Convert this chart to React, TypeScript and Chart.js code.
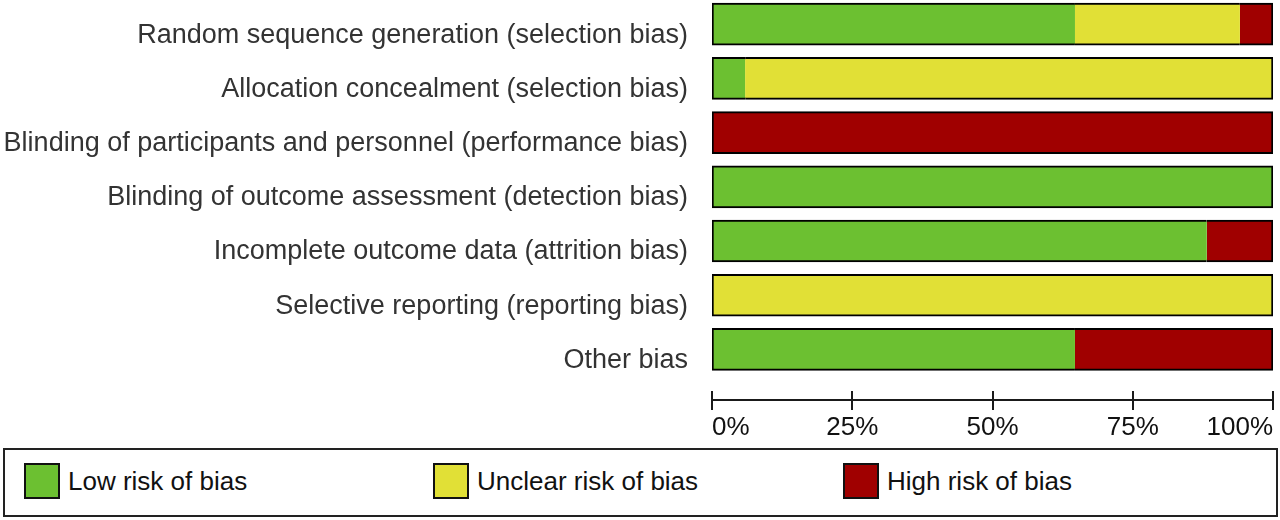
import React, { useEffect, useRef } from "react";
import { Chart, registerables } from "chart.js";

Chart.register(...registerables);

const categories = [
  "Random sequence generation (selection bias)",
  "Allocation concealment (selection bias)",
  "Blinding of participants and personnel (performance bias)",
  "Blinding of outcome assessment (detection bias)",
  "Incomplete outcome data (attrition bias)",
  "Selective reporting (reporting bias)",
  "Other bias",
];
const lowRisk = [64.7, 5.9, 0, 100, 88.2, 0, 64.7];
const unclearRisk = [29.4, 94.1, 0, 0, 0, 100, 0];
const highRisk = [5.9, 0, 100, 0, 11.8, 0, 35.3];
const seriesNames = ["Low risk of bias", "Unclear risk of bias", "High risk of bias"];
const seriesColors = ["#6cc031", "#e1e036", "#a00000"];
const xTicks = [0, 25, 50, 75, 100];

const FONT = "'Liberation Sans', Arial, sans-serif";
const allSeries = [lowRisk, unclearRisk, highRisk];

const axisPlugin = {
  id: "rbAxis",
  afterDraw(chart: any) {
    const x = chart.scales.x;
    const ctx = chart.ctx;
    const yb = chart.chartArea.bottom;
    ctx.save();
    ctx.strokeStyle = "#1a1a1a";
    ctx.lineWidth = 2;
    ctx.beginPath();
    ctx.moveTo(x.getPixelForValue(0), yb);
    ctx.lineTo(x.getPixelForValue(100), yb);
    for (const t of x.ticks) {
      const px = Math.round(x.getPixelForValue(t.value));
      ctx.moveTo(px, yb - 9);
      ctx.lineTo(px, yb + 10);
    }
    ctx.stroke();
    ctx.restore();
  },
};

export default function App() {
  const ref = useRef<HTMLCanvasElement | null>(null);

  useEffect(() => {
    if (!ref.current) return;
    const datasets = allSeries.map((s, ds) => ({
      label: seriesNames[ds],
      data: s.map((v, i) => ({ x: v > 0 ? v : null, y: i })),
      backgroundColor: seriesColors[ds],
      borderColor: "#000000",
      borderSkipped: false as any,
      barThickness: 42,
      borderWidth: (ctx: any) => {
        const i = ctx.dataIndex;
        const v = allSeries[ds][i];
        if (!v) return 0;
        let first = -1;
        let last = -1;
        allSeries.forEach((arr, k) => {
          if (arr[i] > 0) {
            if (first < 0) first = k;
            last = k;
          }
        });
        return { top: 2, bottom: 2, left: ds === first ? 2 : 0, right: ds === last ? 2 : 0 };
      },
    }));

    const chart = new Chart(ref.current, {
      type: "bar",
      data: { datasets },
      plugins: [axisPlugin],
      options: {
        indexAxis: "y",
        animation: false,
        responsive: true,
        maintainAspectRatio: false,
        events: [],
        layout: { padding: { left: 0, right: 7, top: 0, bottom: 0 } },
        plugins: { legend: { display: false }, tooltip: { enabled: false } },
        scales: {
          x: {
            type: "linear",
            position: "bottom",
            stacked: true,
            min: 0,
            max: 100,
            offset: false,
            afterBuildTicks: (scale: any) => {
              scale.ticks = xTicks.map((v) => ({ value: v }));
            },
            ticks: {
              callback: (v: any) => v + "%",
              align: "inner",
              padding: 12,
              color: "#111111",
              font: { family: FONT, size: 26 },
              maxRotation: 0,
            },
            grid: { display: false, drawTicks: false, offset: false },
            border: { display: false },
            afterFit: (scale: any) => {
              scale.height = 45;
              scale.paddingLeft = 0;
              scale.paddingRight = 0;
            },
          },
          y: {
            type: "linear",
            stacked: true,
            reverse: true,
            offset: false,
            min: -0.446,
            max: 6.933,
            afterBuildTicks: (scale: any) => {
              scale.ticks = categories.map((_, i) => ({ value: i }));
            },
            ticks: {
              callback: (v: any) => categories[v] ?? "",
              padding: 24,
              labelOffset: 11,
              color: "#333333",
              font: { family: FONT, size: 27 },
            },
            grid: { display: false, drawTicks: false, offset: false },
            border: { display: false },
            afterFit: (scale: any) => {
              scale.width = 712;
              scale.paddingTop = 0;
              scale.paddingBottom = 0;
            },
          },
        },
      } as any,
    });
    return () => chart.destroy();
  }, []);

  const itemLefts = [24, 433, 843];

  return (
    <div style={{ position: "absolute", left: 0, top: 0, width: 1280, height: 520, background: "#ffffff" }}>
      <div style={{ position: "absolute", left: 0, top: 0, width: 1280, height: 445 }}>
        <canvas ref={ref} />
      </div>
      <div
        style={{
          position: "absolute",
          left: 3,
          top: 448,
          width: 1275,
          height: 69,
          boxSizing: "border-box",
          border: "2px solid #222222",
          fontFamily: FONT,
        }}
      >
        {seriesNames.map((name, k) => (
          <div
            key={name}
            style={{ position: "absolute", left: itemLefts[k] - 5, top: 13, height: 36, display: "flex", alignItems: "center" }}
          >
            <div
              style={{
                width: 36,
                height: 36,
                boxSizing: "border-box",
                border: "2px solid #111111",
                background: seriesColors[k],
              }}
            />
            <span style={{ marginLeft: 8, fontSize: 26, lineHeight: "36px", color: "#111111", whiteSpace: "nowrap" }}>
              {name}
            </span>
          </div>
        ))}
      </div>
    </div>
  );
}
